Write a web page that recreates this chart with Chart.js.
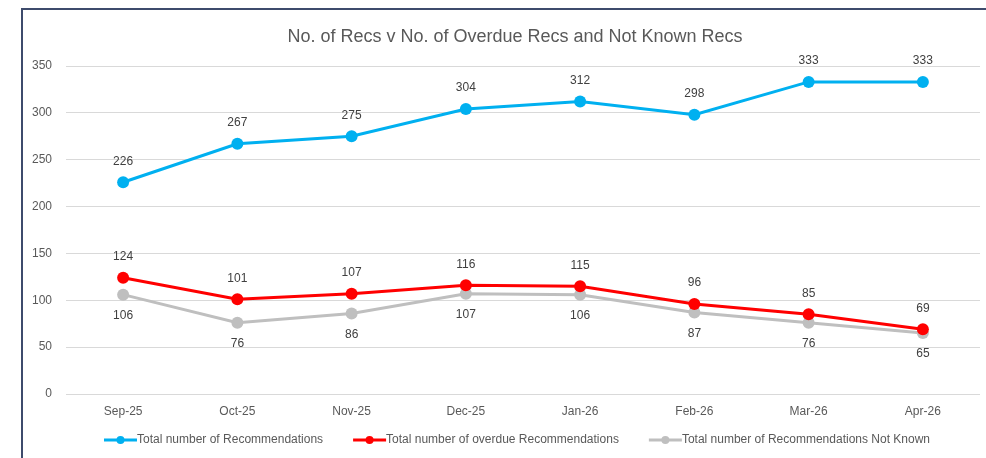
<!DOCTYPE html>
<html>
<head>
<meta charset="utf-8">
<script src="https://cdn.jsdelivr.net/npm/chart.js@4.4.1/dist/chart.umd.min.js"></script>
<style>
    html, body { margin: 0; padding: 0; background: #fff; overflow: hidden; }
    #wrap { position: relative; width: 986px; height: 458px; }
    #frame {
        position: absolute; left: 21px; top: 8px; right: 0; bottom: 0;
        border-top: 2px solid #3E4B6C; border-left: 2px solid #3E4B6C;
        pointer-events: none;
    }
</style>
</head>
<body>
<div id="wrap">
    <canvas id="chart" width="986" height="458"></canvas>
    <div id="frame"></div>
</div>
<script>
// data
const months = ['Sep-25', 'Oct-25', 'Nov-25', 'Dec-25', 'Jan-26', 'Feb-26', 'Mar-26', 'Apr-26'];
const totalRecs = [226, 267, 275, 304, 312, 298, 333, 333];
const overdueRecs = [124, 101, 107, 116, 115, 96, 85, 69];
const notKnownRecs = [106, 76, 86, 107, 106, 87, 76, 65];
const yTicks = [0, 50, 100, 150, 200, 250, 300, 350];

const FONT = '"Liberation Sans", Arial, sans-serif';

// value labels above / below each point
const valueLabels = {
    id: 'valueLabels',
    afterDatasetsDraw(chart) {
        const ctx = chart.ctx;
        ctx.save();
        ctx.font = '12px ' + FONT;
        ctx.fillStyle = '#404040';
        ctx.textAlign = 'center';
        ctx.textBaseline = 'middle';
        chart.data.datasets.forEach((ds, i) => {
            const meta = chart.getDatasetMeta(i);
            meta.data.forEach((pt, j) => {
                const dy = ds.labelPos === 'below' ? 21 : -21;
                ctx.fillText(ds.data[j], pt.x, pt.y + dy);
            });
        });
        ctx.restore();
    }
};

// title and line-style legend, Excel look
const titleAndLegend = {
    id: 'titleAndLegend',
    afterDraw(chart) {
        const ctx = chart.ctx;
        const area = chart.chartArea;
        ctx.save();
        ctx.font = '18px ' + FONT;
        ctx.fillStyle = '#595959';
        ctx.textAlign = 'center';
        ctx.textBaseline = 'middle';
        ctx.fillText('No. of Recs v No. of Overdue Recs and Not Known Recs', 515, 37);

        ctx.font = '12px ' + FONT;
        const lineW = 33, gap = 30;
        const items = chart.data.datasets.map(ds => ({ ds, w: lineW + ctx.measureText(ds.label).width }));
        const total = items.reduce((s, it) => s + it.w, 0) + gap * (items.length - 1);
        let x = (area.left + area.right) / 2 - total / 2 - 6;
        const y = 440;
        items.forEach(it => {
            ctx.strokeStyle = it.ds.borderColor;
            ctx.lineWidth = 3;
            ctx.beginPath();
            ctx.moveTo(x, y);
            ctx.lineTo(x + lineW, y);
            ctx.stroke();
            ctx.fillStyle = it.ds.borderColor;
            ctx.beginPath();
            ctx.arc(x + lineW / 2, y, 4, 0, Math.PI * 2);
            ctx.fill();
            ctx.fillStyle = '#595959';
            ctx.textAlign = 'left';
            ctx.fillText(it.ds.label, x + lineW, y);
            x += it.w + gap;
        });
        ctx.restore();
    }
};

const ctx = document.getElementById('chart').getContext('2d');
const chart = new Chart(ctx, {
    type: 'line',
    data: {
        labels: months,
        datasets: [{
            label: 'Total number of Recommendations',
            data: totalRecs,
            borderColor: '#00B0F0',
            backgroundColor: '#00B0F0',
            labelPos: 'above'
        }, {
            label: 'Total number of overdue Recommendations',
            data: overdueRecs,
            borderColor: '#FF0000',
            backgroundColor: '#FF0000',
            labelPos: 'above'
        }, {
            label: 'Total number of Recommendations Not Known',
            data: notKnownRecs,
            borderColor: '#BFBFBF',
            backgroundColor: '#BFBFBF',
            labelPos: 'below'
        }]
    },
    options: {
        responsive: false,
        animation: false,
        elements: {
            line: { borderWidth: 3, tension: 0 },
            point: { radius: 6, hoverRadius: 6, borderWidth: 0 }
        },
        layout: { padding: { top: 66, left: 22, right: 6, bottom: 24 } },
        scales: {
            x: {
                offset: true,
                grid: { display: false },
                border: { display: false },
                ticks: { color: '#595959', font: { family: FONT, size: 12 }, padding: 2 },
                afterFit: s => { s.height = 40; }
            },
            y: {
                min: 0,
                max: 350,
                afterBuildTicks: s => { s.ticks = yTicks.map(v => ({ value: v })); },
                grid: { color: '#D9D9D9', drawTicks: false },
                border: { display: false },
                ticks: { color: '#595959', font: { family: FONT, size: 12 }, padding: 14 },
                afterFit: s => { s.width = 44; }
            }
        },
        plugins: {
            legend: { display: false },
            title: { display: false },
            tooltip: { enabled: false }
        }
    },
    plugins: [valueLabels, titleAndLegend]
});
</script>
</body>
</html>
